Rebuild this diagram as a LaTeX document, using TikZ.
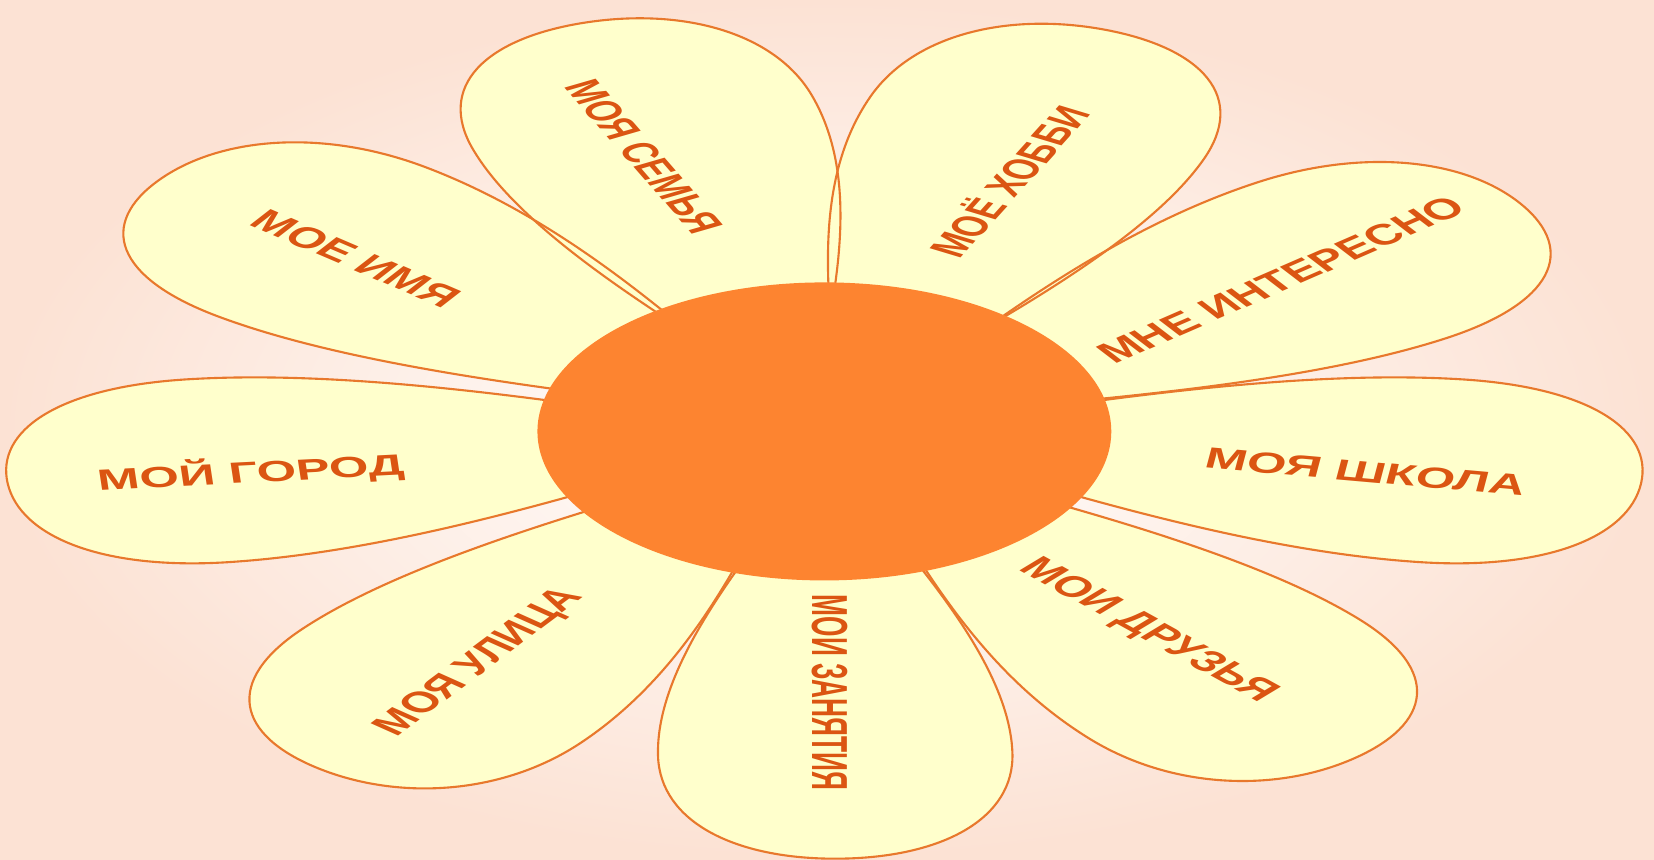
\documentclass[tikz,border=0pt]{standalone}
\usepackage{fontspec}
\setmainfont{Liberation Sans}
\definecolor{bgpeach}{HTML}{FCE2D4}
\definecolor{petalfill}{HTML}{FFFFCC}
\definecolor{petalline}{HTML}{E8782C}
\definecolor{coreorange}{HTML}{FD8430}
\definecolor{labeltext}{HTML}{DB5512}
\tikzset{
  petal/.style={fill=petalfill},
  petaledge/.style={draw=petalline, line width=0.6pt},
  lbl/.style={text=labeltext, transform shape, xscale=0.9, inner sep=0pt,
    font=\bfseries\fontsize{16}{16}\selectfont},
}
\newcommand{\petalpath}{(30,0) .. controls (150,38) and (390,168) .. (590,168)
  .. controls (710,168) and (780,98) .. (780,0)
  .. controls (780,-98) and (710,-168) .. (590,-168)
  .. controls (390,-168) and (150,-38) .. (30,0) -- cycle}
\newcommand{\petalangles}{187,144,107,70,32,-7,-50,-89,-128}

\begin{document}
\begin{tikzpicture}[x=0.010548cm, y=0.010548cm, yscale=0.51935]
  % backdrop
  \path[use as bounding box, inner color=white, outer color=bgpeach]
    (-781.5,-780.5) rectangle (786.5,787.5);
  % petals: fills first, then edges
  \foreach \ang in \petalangles
    \fill[petal, rotate=\ang] \petalpath;
  \foreach \ang in \petalangles
    \draw[petaledge, rotate=\ang] \petalpath;
  % centre
  \fill[coreorange] (0,0) circle (272);
  % labels
  \node[lbl, rotate=5] (gorod) at (-544,-75) {МОЙ ГОРОД};
  \node[lbl, rotate=-36.6] (imya) at (-444,315) {МОЕ ИМЯ};
  \node[lbl, rotate=-63.4, xscale=0.92] (semya) at (-171,502) {МОЯ СЕМЬЯ};
  \node[lbl, rotate=62.5, xscale=0.92] (hobbi) at (173,457) {МОЁ ХОББИ};
  \node[lbl, rotate=37] (interes) at (433,277) {МНЕ ИНТЕРЕСНО};
  \node[lbl, rotate=-8.7] (shkola) at (513,-74) {МОЯ ШКОЛА};
  \node[lbl, rotate=-43.7] (druzya) at (306,-364) {МОИ ДРУЗЬЯ};
  \node[lbl, rotate=-90, xscale=0.9] (zanyatiya) at (5,-477) {МОИ ЗАНЯТИЯ};
  \node[lbl, rotate=52.3] (ulitsa) at (-326,-422) {МОЯ УЛИЦА};
\end{tikzpicture}
\end{document}
